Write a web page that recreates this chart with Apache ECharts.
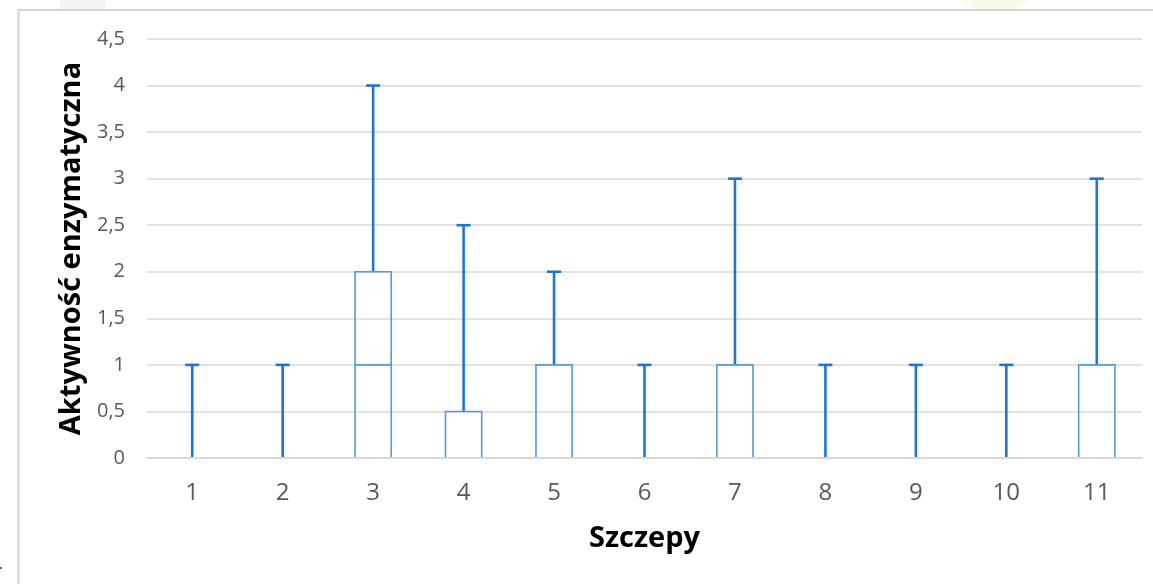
<!DOCTYPE html>
<html>
<head>
<meta charset="utf-8">
<script src="https://cdn.jsdelivr.net/npm/echarts@6/dist/echarts.min.js"></script>
<style>
  html, body { margin: 0; padding: 0; background: #ffffff; }
  #chart { width: 1153px; height: 584px; }
</style>
</head>
<body>
<div id="chart"></div>
<script>
// Strains on the x axis
const categories = ['1', '2', '3', '4', '5', '6', '7', '8', '9', '10', '11'];
// Five-number summary per strain: min, Q1, median, Q3, max
const minValues    = [0, 0, 0, 0,   0, 0, 0, 0, 0, 0, 0];
const q1Values     = [0, 0, 0, 0,   0, 0, 0, 0, 0, 0, 0];
const medianValues = [0, 0, 1, 0,   0, 0, 0, 0, 0, 0, 0];
const q3Values     = [0, 0, 2, 0.5, 1, 0, 1, 0, 0, 0, 1];
const maxValues    = [1, 1, 4, 2.5, 2, 1, 3, 1, 1, 1, 3];
// Y axis tick range
const yMin = 0, yMax = 4.5, yStep = 0.5;

const boxData = categories.map((c, i) =>
  [i, minValues[i], q1Values[i], medianValues[i], q3Values[i], maxValues[i]]);

const whiskerColor = '#1f75cf';
const boxColor = '#5599db';

function renderBox(params, api) {
  const idx = api.value(0);
  const pMin = api.coord([idx, api.value(1)]);
  const pQ1 = api.coord([idx, api.value(2)]);
  const pMed = api.coord([idx, api.value(3)]);
  const pQ3 = api.coord([idx, api.value(4)]);
  const pMax = api.coord([idx, api.value(5)]);
  const bandW = api.size([1, 0])[0];
  const boxW = bandW * 0.4;
  const capW = bandW * 0.155;
  const x = pMed[0];
  const children = [];
  // upper whisker with cap
  if (pMax[1] < pQ3[1]) {
    children.push({ type: 'line', shape: { x1: x, y1: pQ3[1], x2: x, y2: pMax[1] },
      style: { stroke: whiskerColor, lineWidth: 2.6 } });
    children.push({ type: 'line', shape: { x1: x - capW / 2, y1: pMax[1], x2: x + capW / 2, y2: pMax[1] },
      style: { stroke: whiskerColor, lineWidth: 2.6 } });
  }
  // lower whisker with cap
  if (pMin[1] > pQ1[1]) {
    children.push({ type: 'line', shape: { x1: x, y1: pQ1[1], x2: x, y2: pMin[1] },
      style: { stroke: whiskerColor, lineWidth: 2.6 } });
    children.push({ type: 'line', shape: { x1: x - capW / 2, y1: pMin[1], x2: x + capW / 2, y2: pMin[1] },
      style: { stroke: whiskerColor, lineWidth: 2.6 } });
  }
  // interquartile box with median line
  if (pQ1[1] > pQ3[1]) {
    children.push({ type: 'rect', shape: { x: x - boxW / 2, y: pQ3[1], width: boxW, height: pQ1[1] - pQ3[1] },
      style: { fill: 'none', stroke: boxColor, lineWidth: 1.6 } });
    children.push({ type: 'line', shape: { x1: x - boxW / 2, y1: pMed[1], x2: x + boxW / 2, y2: pMed[1] },
      style: { stroke: boxColor, lineWidth: 1.6 } });
  }
  return { type: 'group', children: children };
}

const titleFont = { fontFamily: 'Open Sans', fontWeight: 'bold', fontSize: 29, color: '#000000' };

const chart = echarts.init(document.getElementById('chart'), null, { renderer: 'canvas' });
chart.setOption({
  backgroundColor: '#ffffff',
  animation: false,
  graphic: [
    { type: 'rect', silent: true, z: -10, shape: { x: 60, y: 0, width: 45, height: 9 }, style: { fill: '#f3f3f3' } },
    { type: 'polygon', silent: true, z: -10, shape: { points: [[960, 0], [1030, 0], [1015, 9], [975, 9]] }, style: { fill: '#f8faec' } },
    { type: 'rect', silent: true, z: -5, shape: { x: 18.5, y: 10, width: 1300, height: 700 },
      style: { fill: 'none', stroke: '#d4d4d4', lineWidth: 2 } },
    { type: 'circle', silent: true, shape: { cx: 1, cy: 568, r: 1 }, style: { fill: '#333333' } }
  ],
  grid: { left: 147, right: 11, top: 39, bottom: 126 },
  xAxis: {
    type: 'category',
    data: categories,
    z: 10,
    name: 'Szczepy',
    nameLocation: 'middle',
    nameGap: 66,
    nameTextStyle: titleFont,
    axisLine: { show: true, lineStyle: { color: '#d9d9d9', width: 1.8 } },
    axisTick: { show: false },
    axisLabel: { margin: 23, fontFamily: 'Open Sans', fontSize: 24, color: '#595959' }
  },
  yAxis: {
    type: 'value',
    min: yMin, max: yMax, interval: yStep,
    name: 'Aktywność enzymatyczna',
    nameLocation: 'middle',
    nameGap: 57,
    nameTextStyle: titleFont,
    axisLine: { show: false },
    axisTick: { show: false },
    splitLine: { lineStyle: { color: '#d9d9d9', width: 1.5 } },
    axisLabel: {
      margin: 22, fontFamily: 'Open Sans', fontSize: 20, color: '#595959',
      formatter: v => String(v).replace('.', ',')
    }
  },
  series: [{
    type: 'custom',
    renderItem: renderBox,
    encode: { x: 0, y: [1, 2, 3, 4, 5] },
    data: boxData,
    z: 5
  }]
});
</script>
</body>
</html>
